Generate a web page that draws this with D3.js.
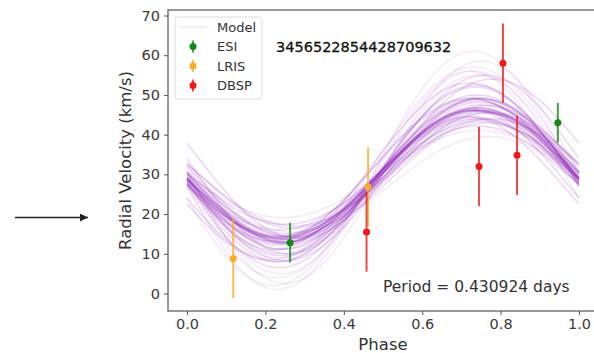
<!DOCTYPE html>
<html>
<head>
<meta charset="utf-8">
<script src="https://cdn.jsdelivr.net/npm/d3@7"></script>
<style>
  body { margin: 0; background: #fff; }
  text { font-family: "DejaVu Sans", sans-serif; }
</style>
</head>
<body>
<div id="chart"></div>
<script>
var w = 594;
var h = 353;

// observations: phase, rv, error
var esiPhase = [0.263, 0.946];
var esiRV    = [12.8, 43.0];
var esiErr   = [5, 5];

var lrisPhase = [0.118, 0.462];
var lrisRV    = [8.8, 26.8];
var lrisErr   = [10, 10];

var dbspPhase = [0.458, 0.745, 0.806, 0.842];
var dbspRV    = [15.5, 32.0, 58.0, 34.8];
var dbspErr   = [10, 10, 10, 10];

// model draws (gamma, K, phase offset)
var modelGamma = [30, 30.5, 29.5, 31, 29, 30, 30.2, 29.8, 31.5, 28.5,
                  30, 30.8, 29.2, 30.4, 29.6, 32, 28, 30, 31, 29,
                  30.3, 29.7, 30.6, 29.4, 33, 27.5, 30, 31.2, 28.8, 30.1,
                  29.9, 32.5, 27, 30.5, 29.5, 31.8, 28.2, 30, 34, 26.5,
                  31, 30.5, 29, 30.2, 29.8];
var modelK     = [16, 17, 15, 18, 16.5, 14, 19, 16, 17.5, 15.5,
                  20, 16.5, 17, 13, 18.5, 21, 15, 22, 14.5, 19.5,
                  16, 17, 15.5, 16.8, 24, 12, 25, 18, 20.5, 11,
                  16.2, 22.5, 19, 13.5, 23, 17.2, 14, 26, 20, 18,
                  30, 28, 27, 16.5, 17];
var modelPhi   = [-0.01, 0.0, -0.02, -0.005, 0.01, -0.015, -0.01, 0.005, -0.025, 0.0,
                  -0.01, 0.015, -0.02, 0.0, -0.005, -0.03, 0.01, -0.015, 0.02, -0.01,
                  -0.008, -0.012, 0.003, -0.018, -0.02, 0.02, -0.01, -0.03, 0.0, -0.005,
                  -0.01, 0.01, -0.025, 0.025, -0.015, 0.0, -0.01, -0.02, 0.03, -0.035,
                  -0.02, 0.0, -0.03, -0.01, -0.005];

var xTicks = [0, 0.2, 0.4, 0.6, 0.8, 1.0];
var yTicks = [0, 10, 20, 30, 40, 50, 60, 70];

var x = d3.scaleLinear().domain([0, 1]).range([187, 579]);
var y = d3.scaleLinear().domain([0, 70]).range([293.5, 15.5]);
var pLeft = 168, pTop = 10, pBottom = 311, pRight = 598;

var svg = d3.select("#chart").append("svg")
    .attr("width", w).attr("height", h);

var defs = svg.append("defs");
defs.append("clipPath").attr("id", "clip")
  .append("rect").attr("x", pLeft).attr("y", pTop)
  .attr("width", pRight - pLeft).attr("height", pBottom - pTop);

// model curves
var phases = d3.range(0, 1.0001, 0.01);
var line = d3.line()
    .x(function(d) { return x(d[0]); })
    .y(function(d) { return y(d[1]); });

var plot = svg.append("g").attr("clip-path", "url(#clip)");
modelGamma.forEach(function(g, i) {
  var pts = phases.map(function(p) {
    return [p, g - modelK[i] * Math.sin(2 * Math.PI * (p - modelPhi[i]))];
  });
  var outlier = modelK[i] > 23 || modelK[i] < 12.5;
  plot.append("path")
    .attr("d", line(pts))
    .attr("fill", "none")
    .attr("stroke", "#8f22b5")
    .attr("stroke-opacity", outlier ? 0.09 : 0.17)
    .attr("stroke-width", 1.6);
});

// error bars
function drawSeries(ph, rv, err, color) {
  var g = plot.append("g");
  g.selectAll("line").data(ph).enter().append("line")
    .attr("x1", function(d) { return x(d); })
    .attr("x2", function(d) { return x(d); })
    .attr("y1", function(d, i) { return y(rv[i] - err[i]); })
    .attr("y2", function(d, i) { return y(rv[i] + err[i]); })
    .attr("stroke", color).attr("stroke-width", 2).attr("stroke-opacity", 0.8);
  g.selectAll("circle").data(ph).enter().append("circle")
    .attr("cx", function(d) { return x(d); })
    .attr("cy", function(d, i) { return y(rv[i]); })
    .attr("r", 3.5)
    .attr("fill", color);
}
drawSeries(esiPhase, esiRV, esiErr, "#148a14");
drawSeries(lrisPhase, lrisRV, lrisErr, "#f7ac2a");
drawSeries(dbspPhase, dbspRV, dbspErr, "#ee1a1a");

// axes
var xAxis = svg.append("g").attr("transform", "translate(0," + pBottom + ")")
  .call(d3.axisBottom(x).tickValues(xTicks).tickFormat(d3.format(".1f")).tickSize(4).tickPadding(4));
var yAxis = svg.append("g").attr("transform", "translate(" + pLeft + ",0)")
  .call(d3.axisLeft(y).tickValues(yTicks).tickSize(4).tickPadding(4));
[xAxis, yAxis].forEach(function(a) {
  a.select(".domain").remove();
  a.selectAll("line").attr("stroke", "#555");
  a.selectAll("text").attr("font-size", "14.5px").attr("fill", "#3a3a3a")
    .attr("font-family", "DejaVu Sans");
});

// frame
svg.append("rect").attr("x", pLeft).attr("y", pTop)
  .attr("width", pRight - pLeft).attr("height", pBottom - pTop)
  .attr("fill", "none").attr("stroke", "#555").attr("stroke-width", 1.2);

// axis labels
svg.append("text").attr("x", 383).attr("y", 350)
  .attr("text-anchor", "middle").attr("font-size", "16.5px").attr("fill", "#333")
  .text("Phase");
svg.append("text")
  .attr("transform", "translate(131," + ((pTop + pBottom) / 2) + ") rotate(-90)")
  .attr("text-anchor", "middle").attr("font-size", "16.5px").attr("fill", "#333")
  .text("Radial Velocity (km/s)");

// annotations
svg.append("text").attr("x", 276).attr("y", 52)
  .attr("font-size", "14.5px").attr("fill", "#111")
  .attr("stroke", "#111").attr("stroke-width", 0.3)
  .text("3456522854428709632");
svg.append("text").attr("x", 383).attr("y", 292)
  .attr("font-size", "15.5px").attr("fill", "#333")
  .text("Period = 0.430924 days");

// legend
var lg = svg.append("g");
lg.append("rect").attr("x", 175).attr("y", 17).attr("width", 87).attr("height", 82)
  .attr("rx", 3).attr("fill", "#fff").attr("fill-opacity", 0.85)
  .attr("stroke", "#ddd");
var legItems = ["Model", "ESI", "LRIS", "DBSP"];
var legColors = [null, "#148a14", "#f7ac2a", "#ee1a1a"];
legItems.forEach(function(t, i) {
  var ly = 27 + i * 19.5;
  if (i === 0) {
    lg.append("line").attr("x1", 180).attr("x2", 207).attr("y1", ly).attr("y2", ly)
      .attr("stroke", "#8f22b5").attr("stroke-opacity", 0.12).attr("stroke-width", 1.6);
  } else {
    lg.append("line").attr("x1", 193).attr("x2", 193).attr("y1", ly - 6).attr("y2", ly + 6)
      .attr("stroke", legColors[i]).attr("stroke-width", 2).attr("stroke-opacity", 0.8);
    lg.append("circle").attr("cx", 193).attr("cy", ly).attr("r", 3.5).attr("fill", legColors[i]);
  }
  lg.append("text").attr("x", 217).attr("y", ly + 4.5)
    .attr("font-size", "13px").attr("fill", "#333").text(t);
});

// arrow on the left
defs.append("marker").attr("id", "arrow")
  .attr("viewBox", "0 0 10 10").attr("refX", 10).attr("refY", 5)
  .attr("markerWidth", 10).attr("markerHeight", 8).attr("orient", "auto")
  .attr("markerUnits", "userSpaceOnUse")
  .append("path").attr("d", "M0,0 L10,5 L0,10 Z").attr("fill", "#222");
svg.append("line").attr("x1", 15).attr("x2", 88).attr("y1", 217.5).attr("y2", 217.5)
  .attr("stroke", "#222").attr("stroke-width", 1.5).attr("marker-end", "url(#arrow)");
</script>
</body>
</html>
